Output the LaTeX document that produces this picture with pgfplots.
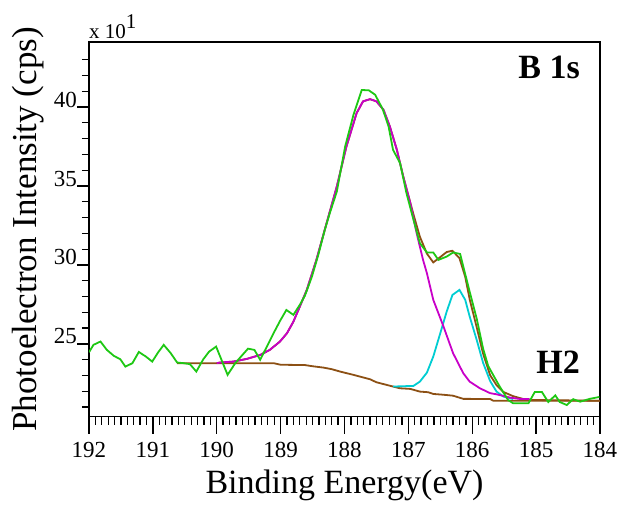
\documentclass[border=0pt]{standalone}
\usepackage{fontspec}
\setmainfont{Liberation Serif}
\usepackage{pgfplots}
\usepackage{pgfplotstable}
\pgfplotsset{compat=1.18}
\definecolor{cgreen}{RGB}{30,200,20}
\definecolor{cbrown}{RGB}{140,80,20}
\definecolor{cmag}{RGB}{200,0,200}
\definecolor{ccyan}{RGB}{0,205,210}

\pgfplotstableread{
x y
192.00 24.47
191.93 24.94
191.82 25.15
191.72 24.62
191.61 24.24
191.51 24.03
191.43 23.56
191.32 23.78
191.22 24.49
191.11 24.20
191.01 23.88
190.92 24.45
190.83 24.94
190.72 24.41
190.62 23.82
190.52 23.78
190.42 23.72
190.32 23.25
190.21 24.03
190.12 24.51
190.01 24.83
189.83 23.04
189.71 23.78
189.62 24.20
189.51 24.70
189.41 24.62
189.32 23.99
189.11 25.68
189.01 26.45
188.91 27.15
188.80 26.84
188.70 27.47
188.62 28.05
188.51 29.26
188.41 30.64
188.31 32.20
188.23 33.28
188.12 34.65
187.99 37.50
187.86 39.50
187.73 41.08
187.62 41.06
187.52 40.78
187.40 39.85
187.31 38.77
187.24 37.29
187.13 36.45
187.03 34.55
186.92 32.86
186.82 31.38
186.71 30.79
186.61 30.79
186.53 30.32
186.40 30.53
186.30 30.79
186.19 30.70
186.04 28.30
185.93 26.60
185.83 24.70
185.75 23.60
185.64 22.80
185.57 22.30
185.44 21.45
185.36 21.24
185.12 21.24
185.02 21.96
184.91 21.96
184.81 21.32
184.70 21.74
184.63 21.32
184.52 21.13
184.42 21.50
184.31 21.34
184.16 21.52
184.01 21.64
}\rawdata

\pgfplotstableread{
x y
190.62 23.78
189.11 23.78
189.00 23.68
188.62 23.66
188.49 23.58
188.33 23.50
188.20 23.40
188.07 23.25
187.86 23.04
187.60 22.76
187.50 22.57
187.24 22.30
187.13 22.19
186.97 22.15
186.82 21.98
186.69 21.94
186.61 21.83
186.45 21.78
186.30 21.72
186.14 21.52
185.72 21.51
185.67 21.40
184.00 21.40
}\bgdata

\pgfplotstableread{
x y
190.00 23.78
189.95 23.82
189.74 23.88
189.53 24.05
189.32 24.30
189.17 24.62
189.01 25.15
188.90 25.68
188.80 26.41
188.70 27.36
188.59 28.42
188.44 30.32
188.28 32.65
188.12 34.97
187.97 37.50
187.81 39.62
187.71 40.36
187.60 40.50
187.50 40.36
187.39 39.83
187.29 38.77
187.18 37.29
187.08 35.60
186.97 33.92
186.87 32.00
186.77 30.32
186.71 29.48
186.61 27.79
186.45 26.10
186.30 24.41
186.14 23.14
186.04 22.61
185.88 22.19
185.72 21.88
185.62 21.81
185.41 21.60
185.25 21.51
185.10 21.51
}\magdata

\pgfplotstableread{
x y
187.24 22.30
186.92 22.34
186.82 22.61
186.71 23.18
186.61 24.20
186.50 25.68
186.40 27.05
186.31 28.10
186.20 28.42
186.11 27.79
186.04 26.73
185.93 25.25
185.83 23.80
185.72 22.65
185.62 21.98
185.51 21.66
185.36 21.51
}\cyandata

\pgfplotstableread{
x y
190.00 23.78
189.95 23.82
189.74 23.88
189.53 24.05
189.32 24.30
189.17 24.62
189.01 25.15
188.90 25.68
188.80 26.41
188.70 27.36
188.59 28.42
188.44 30.32
188.28 32.65
188.12 34.97
187.97 37.50
187.81 39.62
187.71 40.36
187.60 40.50
187.50 40.36
187.39 39.83
187.29 38.77
187.18 37.29
187.08 35.60
186.97 33.95
186.92 33.20
186.82 31.79
186.71 30.72
186.61 30.16
186.50 30.50
186.40 30.82
186.31 30.90
186.20 30.43
186.11 29.25
186.04 27.82
185.93 26.05
185.83 24.38
185.72 23.02
185.62 22.39
185.51 21.95
185.36 21.69
185.20 21.51
185.10 21.45
184.00 21.40
}\envdata

\begin{document}
\begin{tikzpicture}
\useasboundingbox (0,0) rectangle (619pt,506pt);
\pgfplotsset{common/.style={
  scale only axis, width=511pt, height=374.7pt,
  at={(89pt,89.3pt)}, anchor=south west,
  xmin=184, xmax=192, x dir=reverse,
  ymin=20.39, ymax=44.12,
  tick align=outside,
  axis line style={line width=1.5pt, black},
  tick style={line width=1.3pt, black},
  /pgf/number format/assume math mode=true,
  /pgf/number format/.cd, 1000 sep={}, /pgfplots/.cd,
}}
% x ticks
\begin{axis}[common,
  xtick={184,185,...,192}, minor x tick num=9, xtick pos=bottom,
  ytick=\empty,
  major tick length=17pt, minor tick length=8pt,
  xticklabel style={font=\fontsize{23}{27}\selectfont, anchor=north, inner sep=0pt, yshift=-8.5pt},
]
\end{axis}
% y ticks and data
\begin{axis}[common,
  clip mode=individual,
  xtick=\empty,
  ytick={25,30,35,40}, minor ytick={21,22,...,43}, ytick pos=left,
  major tick length=12pt, minor tick length=7pt,
  yticklabel style={font=\fontsize{23}{27}\selectfont, anchor=base east, inner sep=0pt, xshift=0pt},
  xlabel={Binding Energy(eV)},
  ylabel={Photoelectron Intensity (cps)},
  every axis x label/.style={at={(axis description cs:0.5,-0.2063)}, anchor=base, font=\fontsize{34}{40}\selectfont},
  every axis y label/.style={at={(axis description cs:-0.1018,0.5)}, anchor=base, rotate=90, font=\fontsize{35}{40}\selectfont},
]
\addplot[cbrown, line width=1.8pt] table[x=x,y=y] {\bgdata};
\addplot[cbrown, line width=1.8pt] table[x=x,y=y] {\envdata};
\addplot[ccyan, line width=1.8pt] table[x=x,y=y] {\cyandata};
\addplot[cmag, line width=1.8pt] table[x=x,y=y] {\magdata};
\addplot[cgreen, line width=1.8pt] table[x=x,y=y] {\rawdata};
\node[anchor=base west, inner sep=0pt, font=\fontsize{21}{25}\selectfont] at (axis description cs:0,1.008) {x 10\raisebox{11pt}{1}};
\node[anchor=base east, inner sep=0pt, font=\bfseries\fontsize{34}{40}\selectfont] at (axis description cs:0.9609,0.9013) {B 1s};
\node[anchor=base east, inner sep=0pt, font=\bfseries\fontsize{34}{40}\selectfont] at (axis description cs:0.9609,0.1158) {H2};
\end{axis}
\end{tikzpicture}
\end{document}
